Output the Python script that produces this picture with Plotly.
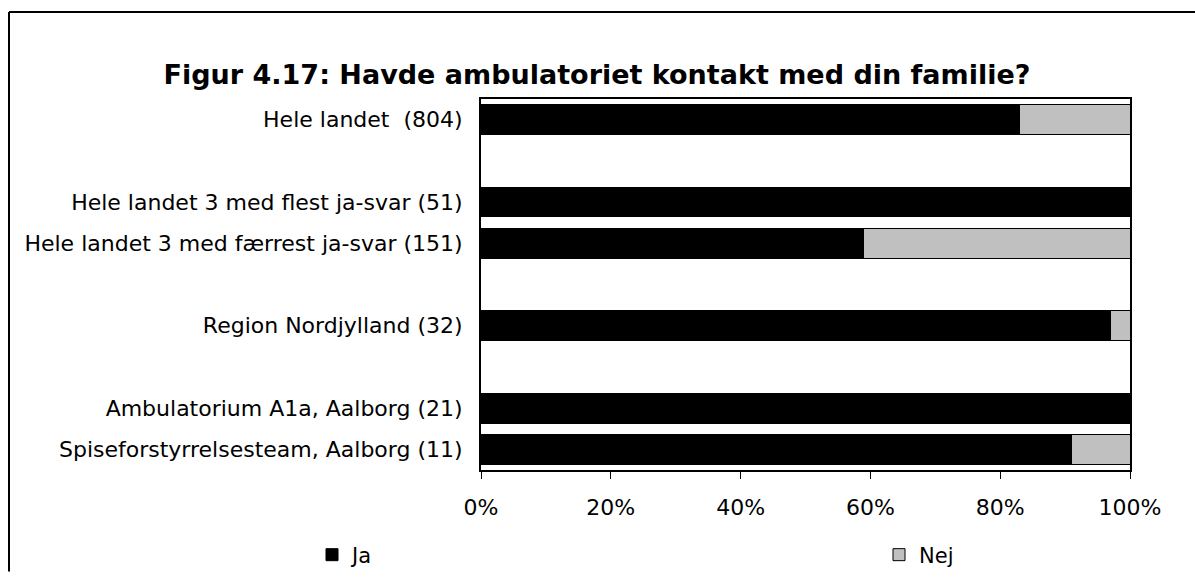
import plotly.graph_objects as go

categories = [
    "Hele landet\u00a0 (804)",
    "\u200b",
    "Hele landet 3 med flest ja-svar (51)",
    "Hele landet 3 med færrest ja-svar (151)",
    "\u200b\u200b",
    "Region Nordjylland (32)",
    "\u200b\u200b\u200b",
    "Ambulatorium A1a, Aalborg (21)",
    "Spiseforstyrrelsesteam, Aalborg (11)",
]
ja = [0.83, None, 1.00, 0.59, None, 0.97, None, 1.00, 0.91]
nej = [0.17, None, 0.00, 0.41, None, 0.03, None, 0.00, 0.09]
x_ticks = [0, 0.2, 0.4, 0.6, 0.8, 1.0]
x_ticktext = ["0%", "20%", "40%", "60%", "80%", "100%"]

FONT = "DejaVu Sans, Verdana, sans-serif"

fig = go.Figure()
fig.add_trace(go.Bar(
    y=categories, x=ja, orientation="h", name="Ja",
    marker=dict(color="#000000", line=dict(color="#000000", width=1)),
    legend="legend", showlegend=True,
))
fig.add_trace(go.Bar(
    y=categories, x=nej, orientation="h", name="Nej",
    marker=dict(color="#C0C0C0", line=dict(color="#000000", width=1)),
    legend="legend2", showlegend=True,
))

W, H = 1195, 588
L, T = 481, 99
R, B = W - 1130, H - 483
pw, ph = W - L - R, H - T - B

def px_x(x):
    return (x - L) / pw

def px_y(y):
    return (H - B - y) / ph

frame = dict(color="#000000", width=2)

fig.update_layout(
    width=W, height=H,
    showlegend=True,
    barmode="stack", bargap=0.28,
    margin=dict(l=L, r=R, t=T, b=B, pad=0),
    paper_bgcolor="white", plot_bgcolor="white",
    font=dict(family=FONT, size=22, color="#000000"),
    title=dict(
        text="<b>Figur 4.17: Havde ambulatoriet kontakt med din familie?</b>",
        x=597 / W, xanchor="center", xref="container",
        y=1 - 75 / H, yanchor="middle", yref="container",
        font=dict(family=FONT, size=27, color="#000000"),
    ),
    xaxis=dict(
        range=[0, 1], tickvals=x_ticks, ticktext=x_ticktext,
        showgrid=False, zeroline=False,
        showline=True, linecolor="#000000", linewidth=2, mirror=True,
        ticks="outside", ticklen=7, tickcolor="#000000", tickwidth=1,
        ticklabelstandoff=10,
        tickfont=dict(family=FONT, size=22, color="#000000"),
        fixedrange=True,
    ),
    yaxis=dict(
        categoryorder="array", categoryarray=categories,
        autorange="reversed",
        showgrid=False, zeroline=False,
        showline=True, linecolor="#000000", linewidth=2, mirror=True,
        ticks="", ticklabelstandoff=12,
        tickfont=dict(family=FONT, size=22, color="#000000"),
        fixedrange=True,
    ),
    legend=dict(
        x=px_x(312), y=px_y(571), xanchor="left", yanchor="middle",
        orientation="h", bgcolor="rgba(0,0,0,0)", borderwidth=0,
        font=dict(family=FONT, size=21, color="#000000"),
        visible=True,
    ),
    legend2=dict(
        x=px_x(879), y=px_y(571), xanchor="left", yanchor="middle",
        orientation="h", bgcolor="rgba(0,0,0,0)", borderwidth=0,
        font=dict(family=FONT, size=21, color="#000000"),
        visible=True,
    ),
    shapes=[
        dict(type="line", xref="paper", yref="paper",
             x0=px_x(9), x1=px_x(W), y0=px_y(9), y1=px_y(9),
             line=frame, layer="above"),
        dict(type="line", xref="paper", yref="paper",
             x0=px_x(9), x1=px_x(9), y0=px_y(9), y1=px_y(H),
             line=frame, layer="above"),
    ],
)

post = (
    "document.documentElement.style.overflow='hidden';"
    "document.body.style.margin='0';"
    "document.body.style.overflow='hidden';"
    "var gd=document.getElementById('{plot_id}');"
    "gd.style.position='fixed';gd.style.left='0px';gd.style.top='0px';"
)

fig.write_html(
    "out.html",
    config={"displayModeBar": False, "staticPlot": True},
    post_script=post,
)
